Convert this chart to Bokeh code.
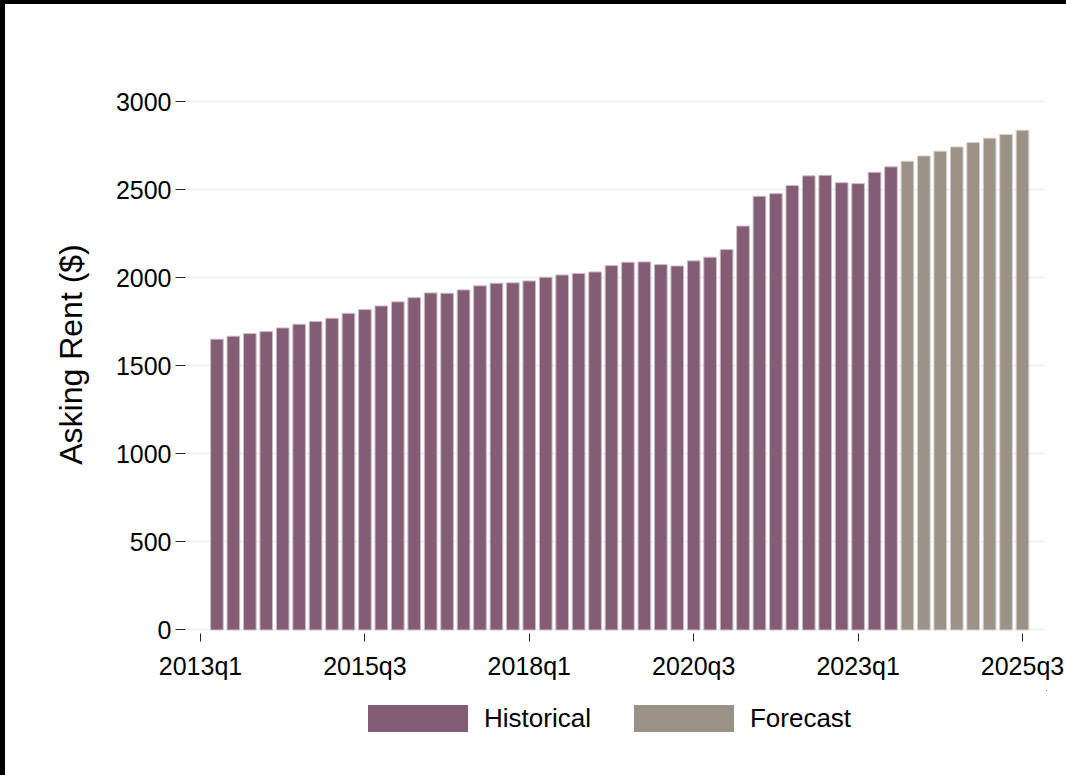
from bokeh.plotting import figure
from bokeh.models import Range1d, FixedTicker, Legend, LegendItem
from bokeh.layouts import column
from bokeh.embed import file_html
from bokeh.resources import INLINE

# Quarterly asking rent ($), 2013q2 .. 2025q3
historical_quarters = list(range(1, 43))   # quarter index, 0 = 2013q1
historical_rent = [
    1652, 1669, 1684, 1695, 1716, 1737, 1752, 1771, 1799, 1820,
    1841, 1864, 1888, 1915, 1913, 1932, 1955, 1970, 1972, 1983,
    2004, 2017, 2025, 2034, 2070, 2089, 2091, 2076, 2068, 2097,
    2118, 2161, 2295, 2464, 2479, 2525, 2580, 2583, 2541, 2536,
    2600, 2631,
]
forecast_quarters = list(range(43, 51))
forecast_rent = [2663, 2693, 2720, 2744, 2769, 2794, 2815, 2839]

x_tick_positions = [0, 10, 20, 30, 40, 50]
x_tick_labels = ["2013q1", "2015q3", "2018q1", "2020q3", "2023q1", "2025q3"]
y_ticks = [0, 500, 1000, 1500, 2000, 2500, 3000]
series_names = ["Historical", "Forecast"]

HIST_COLOR = "#835D73"
FCST_COLOR = "#9A9286"
HIST_EDGE = "#cdbcc6"
FCST_EDGE = "#d6d0c8"
FONT = "Liberation Sans"

p = figure(width=1061, height=686, output_backend="svg", toolbar_location=None,
           x_range=Range1d(-0.912, 51.46), y_range=Range1d(-20, 3150),
           min_border_left=180, min_border_right=20,
           min_border_top=71, min_border_bottom=57)
p.outline_line_color = None
p.background_fill_color = "white"
p.border_fill_color = "white"

p.vbar(x=historical_quarters, top=historical_rent, bottom=0, width=0.77,
       fill_color=HIST_COLOR, line_color=HIST_EDGE, line_width=1)
p.vbar(x=forecast_quarters, top=forecast_rent, bottom=0, width=0.77,
       fill_color=FCST_COLOR, line_color=FCST_EDGE, line_width=1)

# grid
p.xgrid.visible = False
p.ygrid.ticker = FixedTicker(ticks=y_ticks)
p.ygrid.grid_line_color = "#E8F0F2"
p.ygrid.grid_line_width = 1.5

# y axis
ya = p.yaxis[0]
ya.ticker = FixedTicker(ticks=y_ticks)
ya.axis_line_color = None
ya.major_tick_in = 0
ya.major_tick_out = 10
ya.minor_tick_line_color = None
ya.major_tick_line_color = "#222222"
ya.major_label_standoff = 4
ya.major_label_text_font = FONT
ya.major_label_text_font_size = "25px"
ya.major_label_text_color = "black"
ya.axis_label = "Asking Rent ($)"
ya.axis_label_text_font = FONT
ya.axis_label_text_font_size = "32px"
ya.axis_label_text_font_style = "normal"
ya.axis_label_text_color = "black"
ya.axis_label_standoff = 24

# x axis
xa = p.xaxis[0]
xa.ticker = FixedTicker(ticks=x_tick_positions)
xa.major_label_overrides = {t: l for t, l in zip(x_tick_positions, x_tick_labels)}
xa.axis_line_color = None
xa.major_tick_in = 0
xa.major_tick_out = 8
xa.minor_tick_line_color = None
xa.major_tick_line_color = "#222222"
xa.major_label_standoff = 10
xa.major_label_text_font = FONT
xa.major_label_text_font_size = "25px"
xa.major_label_text_color = "black"

# legend strip below the plot (proxy bars lie far outside its visible ranges)
pl = figure(width=1061, height=85, output_backend="svg", toolbar_location=None,
            x_range=Range1d(-1000, -999), y_range=Range1d(-100000, -99999),
            min_border_left=180, min_border_right=20, min_border_top=0, min_border_bottom=0)
pl.axis.visible = False
pl.grid.visible = False
pl.outline_line_color = None
pl.border_fill_color = "white"
lh = pl.vbar(x=historical_quarters, top=historical_rent, bottom=0, width=0.77,
             fill_color=HIST_COLOR, line_color=None)
lf = pl.vbar(x=forecast_quarters, top=forecast_rent, bottom=0, width=0.77,
             fill_color=FCST_COLOR, line_color=None)
legend = Legend(items=[LegendItem(label=series_names[0], renderers=[lh]),
                       LegendItem(label=series_names[1], renderers=[lf])],
                orientation="horizontal", location=(170, 40),
                glyph_width=125, glyph_height=34, label_height=27,
                label_standoff=4, spacing=30, padding=0, margin=0,
                border_line_color=None, background_fill_alpha=0,
                label_text_font=FONT, label_text_font_size="26px",
                label_text_color="black")
pl.add_layout(legend, "center")

layout = column(p, pl, spacing=0,
                styles={"border-top": "4px solid black", "border-left": "5px solid black"})
open("out.html", "w").write(file_html(layout, INLINE))
